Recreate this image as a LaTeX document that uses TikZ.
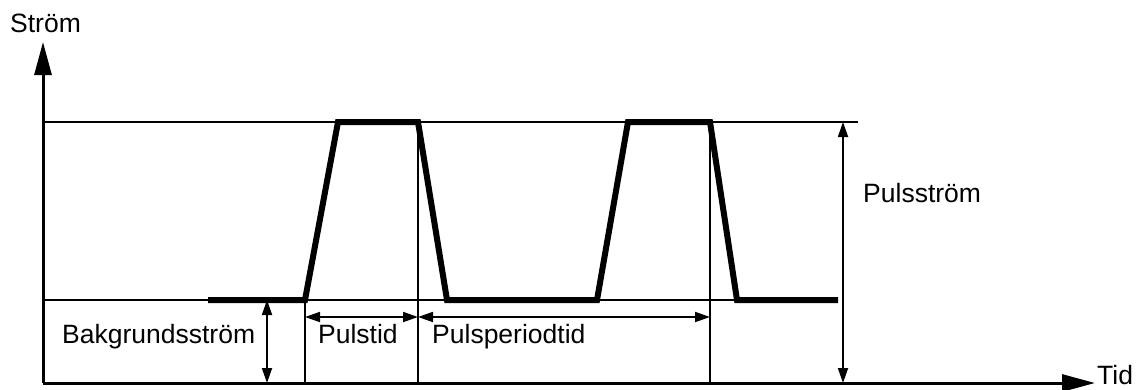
\documentclass[tikz,border=0pt]{standalone}
\usepackage{fontspec}
\setmainfont{Liberation Sans}
\usetikzlibrary{arrows.meta}
\tikzset{
  thin line/.style={line width=1.8pt},
  wave/.style={line width=6pt, line join=miter},
  axis/.style={line width=3pt, -{Triangle[length=33pt,width=17pt]}},
  dim/.style={line width=1.8pt, {Triangle[length=15pt,width=10pt]}-{Triangle[length=15pt,width=10pt]}},
  lbl/.style={inner sep=0pt, font=\fontsize{26.5}{31}\selectfont}
}
\begin{document}
\begin{tikzpicture}[x=1pt,y=-1pt]
\useasboundingbox (0,0) rectangle (1139,389);
% coordinates
\coordinate (O) at (43,383);
\coordinate (Ytip) at (43,42);
\coordinate (Xtip) at (1095,383);
\coordinate (TL) at (43,122);
\coordinate (TR) at (858,122);
\coordinate (BL) at (43,300);
\coordinate (BR) at (838,300);
\coordinate (w0) at (208,300);
\coordinate (w1) at (305,300);
\coordinate (w2) at (338,122);
\coordinate (w3) at (418,122);
\coordinate (w4) at (447,300);
\coordinate (w5) at (597,300);
\coordinate (w6) at (628,122);
\coordinate (w7) at (710,122);
\coordinate (w8) at (737,300);
\coordinate (w9) at (838,300);
\coordinate (v1b) at (305,383);
\coordinate (v2b) at (418,383);
\coordinate (v3b) at (710,383);
\coordinate (bga) at (267,300);
\coordinate (bgb) at (267,383);
\coordinate (pta) at (305,317);
\coordinate (ptb) at (418,317);
\coordinate (ppb) at (710,317);
\coordinate (psa) at (843,122);
\coordinate (psb) at (843,383);
% reference lines
\draw[thin line] (TL) -- (TR);
\draw[thin line] (BL) -- (BR);
\draw[thin line] (w1) -- (v1b);
\draw[thin line] (w3) -- (v2b);
\draw[thin line] (w7) -- (v3b);
% waveform
\draw[wave] (w0) -- (w1) -- (w2) -- (w3) -- (w4) -- (w5) -- (w6) -- (w7) -- (w8) -- (w9);
% axes
\draw[axis] (O) -- (Ytip);
\draw[axis] (O) -- (Xtip);
% dimension arrows
\draw[dim] (bga) -- (bgb);
\draw[dim] (pta) -- (ptb);
\draw[dim] (ptb) -- (ppb);
\draw[dim] (psa) -- (psb);
% labels
\node[lbl, anchor=base west] (strom) at (10,32) {Ström};
\node[lbl, anchor=base west] (tid) at (1097,384) {Tid};
\node[lbl, anchor=base west] (bakg) at (62,343) {Bakgrundsström};
\node[lbl, anchor=base west] (pulstid) at (318,343) {Pulstid};
\node[lbl, anchor=base west] (pper) at (432,343) {Pulsperiodtid};
\node[lbl, anchor=base west] (pstrom) at (863,202) {Pulsström};
\end{tikzpicture}
\end{document}
